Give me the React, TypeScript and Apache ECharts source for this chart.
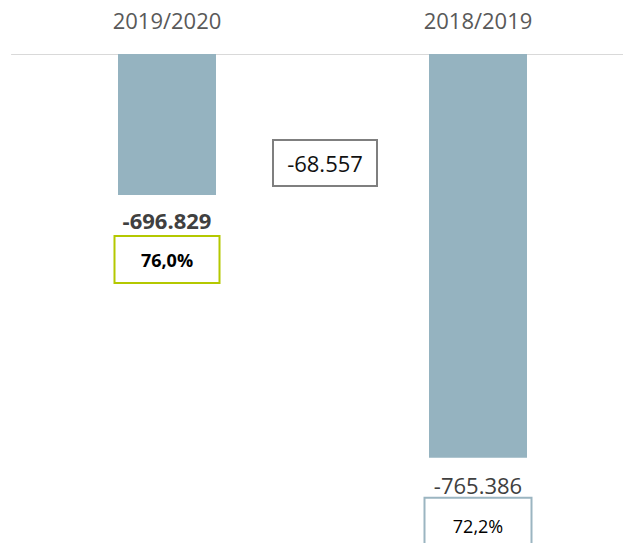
import React, { useEffect, useRef } from "react";
import * as echarts from "echarts";

const categories = ["2019/2020", "2018/2019"];
const values = [-696829, -765386];
const shares = [76.0, 72.2];
const shareBorderColors = ["#b4c800", "#9bb5c1"];

const FONT = "'Open Sans', 'Noto Sans', sans-serif";
const BAR_COLOR = "#95b3c0";

function fmtNum(v: number): string {
  const sign = v < 0 ? "-" : "";
  const s = Math.round(Math.abs(v)).toString();
  return sign + s.replace(/\B(?=(\d{3})+(?!\d))/g, ".");
}
function fmtPct(p: number): string {
  return p.toFixed(1).replace(".", ",") + "%";
}

export default function App() {
  const ref = useRef<HTMLDivElement>(null);
  useEffect(() => {
    if (!ref.current) return;
    const chart = echarts.init(ref.current, undefined, { renderer: "svg" });
    const diff = values[1] - values[0];
    const labelCfg = [
      {
        distance: 7,
        v: { fontSize: 22, fontWeight: "bold", color: "#404040", lineHeight: 35, fontFamily: FONT },
        p: { width: 103, height: 45, lineHeight: 45, fontSize: 18, fontWeight: "bold" },
      },
      {
        distance: 13,
        v: { fontSize: 22, fontWeight: "normal", color: "#404040", lineHeight: 28, fontFamily: FONT },
        p: { width: 105, height: 55, lineHeight: 55, fontSize: 18, fontWeight: "normal" },
      },
    ];
    const data = values.map((v, i) => ({
      value: v,
      label: {
        show: true,
        position: "bottom",
        distance: labelCfg[i].distance,
        align: "center",
        formatter: () => `{v|${fmtNum(v)}}\n{p|${fmtPct(shares[i])}}`,
        rich: {
          v: labelCfg[i].v,
          p: {
            ...labelCfg[i].p,
            align: "center",
            color: "#000000",
            fontFamily: FONT,
            backgroundColor: "#ffffff",
            borderColor: shareBorderColors[i],
            borderWidth: 2,
          },
        },
      },
    }));
    chart.setOption({
      animation: false,
      backgroundColor: "#ffffff",
      grid: { left: 11.5, top: 54, right: 11.5, bottom: 29.4, containLabel: false },
      xAxis: {
        type: "category",
        position: "top",
        data: categories,
        axisLine: { show: true, lineStyle: { color: "#d9d9d9", width: 1 } },
        axisTick: { show: false },
        axisLabel: { fontSize: 22, color: "#595959", margin: 23, fontFamily: FONT },
      },
      yAxis: {
        type: "value",
        show: false,
        min: -780000,
        max: -660000,
        splitLine: { show: false },
      },
      series: [
        {
          type: "bar",
          data,
          barWidth: 98,
          clip: true,
          itemStyle: { color: BAR_COLOR },
        },
      ],
      graphic: [
        {
          type: "rect",
          z: 100,
          shape: { x: 273, y: 140, width: 104, height: 46 },
          style: { fill: "#ffffff", stroke: "#7f7f7f", lineWidth: 2 },
        },
        {
          type: "text",
          z: 101,
          x: 325,
          y: 163,
          style: {
            text: fmtNum(diff),
            fontSize: 22,
            fontFamily: FONT,
            fill: "#111111",
            align: "center",
            verticalAlign: "middle",
          },
        },
      ],
    });
    return () => chart.dispose();
  }, []);
  return (
    <div
      ref={ref}
      style={{ position: "fixed", left: 0, top: 0, width: 645, height: 543, background: "#fff" }}
    />
  );
}
